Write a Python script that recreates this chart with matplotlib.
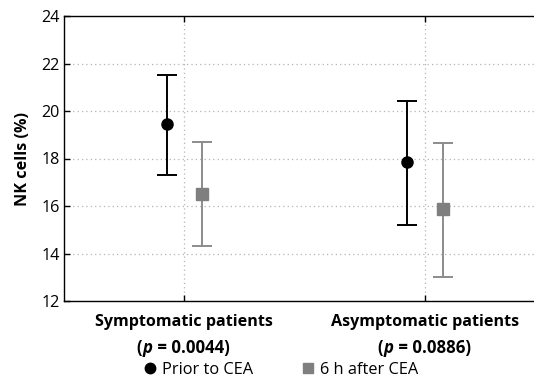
import matplotlib
matplotlib.use("Agg")
import matplotlib.pyplot as plt
import matplotlib.transforms as mtransforms
from matplotlib.lines import Line2D
from matplotlib.offsetbox import TextArea, HPacker, AnnotationBbox
import numpy as np

plt.rcParams['font.family'] = ['Open Sans', 'DejaVu Sans']

categories = ["Symptomatic patients", "Asymptomatic patients"]
p_values = ["0.0044", "0.0886"]
series_names = ["Prior to CEA", "6 h after CEA"]
prior_mean = [19.45, 17.86]
prior_low = [17.30, 15.22]
prior_high = [21.52, 20.42]
after_mean = [16.52, 15.87]
after_low = [14.31, 13.03]
after_high = [18.70, 18.67]
yticks = [12, 14, 16, 18, 20, 22, 24]

fig = plt.figure(figsize=(5.34, 3.82), dpi=100)
ax = fig.add_axes([64/534, (382-301)/382, (534-64)/534, (301-16)/382])

x = np.arange(len(categories))
off = 0.074
prior_mean = np.array(prior_mean); after_mean = np.array(after_mean)
err_p = [prior_mean - np.array(prior_low), np.array(prior_high) - prior_mean]
err_a = [after_mean - np.array(after_low), np.array(after_high) - after_mean]

ax.errorbar(x - off, prior_mean, yerr=err_p, fmt='o', color='black', ecolor='black',
            markersize=8, elinewidth=1.4, capsize=7.5, capthick=1.4, zorder=3)
ax.errorbar(x + off, after_mean, yerr=err_a, fmt='s', color='#7f7f7f', ecolor='#8c8c8c',
            markersize=8.5, elinewidth=1.4, capsize=7.5, capthick=1.4, zorder=3)

fs = 11.6
fs2 = 12.1
ax.set_xlim(-0.5, 1.452)
ax.set_ylim(12, 24)
ax.set_yticks(yticks)
ax.set_yticklabels([str(v) for v in yticks], fontsize=fs)
ax.set_xticks(x)
ax.set_xticklabels(categories, fontsize=fs, fontweight='bold')
trans = mtransforms.blended_transform_factory(ax.transData, ax.transAxes)
for xi, p in zip(x, p_values):
    parts = [TextArea("(", textprops=dict(fontsize=fs2, fontweight='bold')),
             TextArea("p", textprops=dict(fontsize=fs2, fontweight='bold', fontstyle='italic')),
             TextArea(" = " + p + ")", textprops=dict(fontsize=fs2, fontweight='bold'))]
    box = HPacker(children=parts, align='baseline', pad=0, sep=0.3)
    ab = AnnotationBbox(box, (xi, 0), xycoords=trans, xybox=(-1, -47),
                        boxcoords='offset pixels', frameon=False, box_alignment=(0.5, 0.5),
                        pad=0, annotation_clip=False)
    ax.add_artist(ab)
ax.tick_params(axis='both', direction='in', length=4, width=1, top=True)
ax.tick_params(axis='x', pad=9)
ax.tick_params(axis='y', pad=3)
ax.grid(True, linestyle=(0, (1, 2.5)), color='#b4b4b4', linewidth=0.9)
ax.set_axisbelow(True)
ax.spines['right'].set_visible(False)
for s in ['left', 'top', 'bottom']:
    ax.spines[s].set_linewidth(1.0)
ax.set_ylabel("NK cells (%)", fontsize=fs, fontweight='bold')
ax.yaxis.set_label_coords(-(64-31)/470, 0.5)

h1 = Line2D([], [], marker='o', color='black', linestyle='none', markersize=7.5)
h2 = Line2D([], [], marker='s', color='#7f7f7f', linestyle='none', markersize=7.5)
fig.legend([h1, h2], series_names, loc='center', bbox_to_anchor=(280/534, 1 - 370/382),
           ncol=2, frameon=False, fontsize=11.8, handletextpad=0.25, columnspacing=2.8,
           handlelength=1.0, borderpad=0)

fig.savefig("out.png", dpi=100)
